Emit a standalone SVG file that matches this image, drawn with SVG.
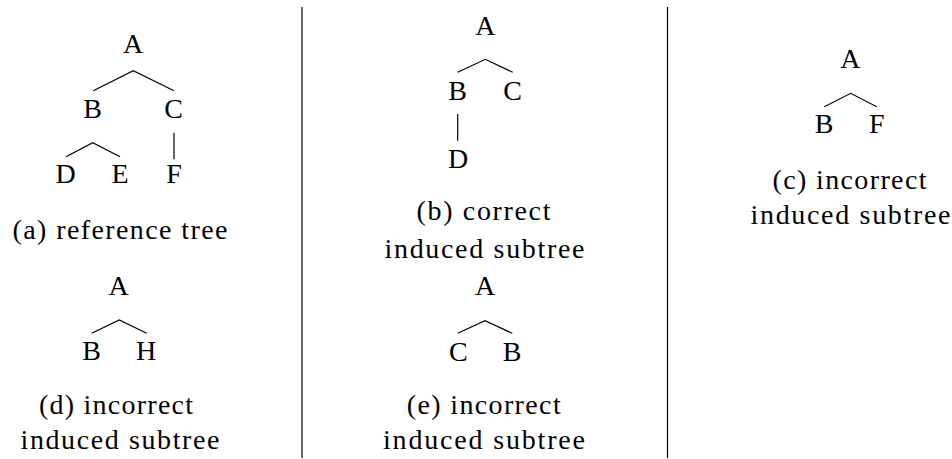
<svg xmlns="http://www.w3.org/2000/svg" width="952" height="459" viewBox="0 0 952 459">
<rect width="952" height="459" fill="#fff"/>
<g id="separators" stroke="#000" stroke-width="1.2">
  <line x1="302" y1="7" x2="302" y2="458"/>
  <line x1="667.5" y1="7" x2="667.5" y2="458"/>
</g>
<g id="connectors" fill="none" stroke="#000" stroke-width="1.2">
  <polyline points="93.3,90.7 133.3,70.7 174,90.7"/>
  <polyline points="66,156.7 92.7,142.7 120,156.7"/>
  <line x1="174" y1="132.7" x2="174" y2="159.3"/>
  <polyline points="457.7,72.3 485.3,59.3 512.7,72.3"/>
  <line x1="457.7" y1="114" x2="457.7" y2="140.7"/>
  <polyline points="824.3,106.7 850.7,93.3 876.7,106.7"/>
  <polyline points="91.7,333.3 119.3,320 146.7,333.3"/>
  <polyline points="457.7,333.3 485,320.7 512.3,333.3"/>
</g>
<g id="treeA">
  <g id="nodeA1"><text x="133" y="53.3" font-family="Liberation Serif" font-size="28" text-anchor="middle" style="font-family:'Liberation Serif',serif">A</text></g>
  <g id="nodeB1"><text x="92.5" y="118.3" font-family="Liberation Serif" font-size="28" text-anchor="middle" style="font-family:'Liberation Serif',serif">B</text></g>
  <g id="nodeC1"><text x="173.5" y="118.3" font-family="Liberation Serif" font-size="28" text-anchor="middle" style="font-family:'Liberation Serif',serif">C</text></g>
  <g id="nodeD1"><text x="65.5" y="183.3" font-family="Liberation Serif" font-size="28" text-anchor="middle" style="font-family:'Liberation Serif',serif">D</text></g>
  <g id="nodeE1"><text x="120" y="183.3" font-family="Liberation Serif" font-size="28" text-anchor="middle" style="font-family:'Liberation Serif',serif">E</text></g>
  <g id="nodeF1"><text x="174" y="183.3" font-family="Liberation Serif" font-size="28" text-anchor="middle" style="font-family:'Liberation Serif',serif">F</text></g>
  <text x="120" y="239" font-family="Liberation Serif" font-size="28" text-anchor="middle" textLength="215" lengthAdjust="spacing" style="font-family:'Liberation Serif',serif">(a) reference tree</text>
</g>
<g id="treeB">
  <g id="nodeA2"><text x="485.3" y="35" font-family="Liberation Serif" font-size="28" text-anchor="middle" style="font-family:'Liberation Serif',serif">A</text></g>
  <g id="nodeB2"><text x="457.5" y="100" font-family="Liberation Serif" font-size="28" text-anchor="middle" style="font-family:'Liberation Serif',serif">B</text></g>
  <g id="nodeC2"><text x="512.5" y="100" font-family="Liberation Serif" font-size="28" text-anchor="middle" style="font-family:'Liberation Serif',serif">C</text></g>
  <g id="nodeD2"><text x="458" y="168" font-family="Liberation Serif" font-size="28" text-anchor="middle" style="font-family:'Liberation Serif',serif">D</text></g>
  <text x="483.5" y="220" font-family="Liberation Serif" font-size="28" text-anchor="middle" textLength="134" lengthAdjust="spacing" style="font-family:'Liberation Serif',serif">(b) correct</text>
  <text x="484.5" y="257.5" font-family="Liberation Serif" font-size="28" text-anchor="middle" textLength="200" lengthAdjust="spacing" style="font-family:'Liberation Serif',serif">induced subtree</text>
</g>
<g id="treeC">
  <g id="nodeA3"><text x="850.3" y="68.3" font-family="Liberation Serif" font-size="28" text-anchor="middle" style="font-family:'Liberation Serif',serif">A</text></g>
  <g id="nodeB3"><text x="824" y="133.3" font-family="Liberation Serif" font-size="28" text-anchor="middle" style="font-family:'Liberation Serif',serif">B</text></g>
  <g id="nodeF3"><text x="876.7" y="133.3" font-family="Liberation Serif" font-size="28" text-anchor="middle" style="font-family:'Liberation Serif',serif">F</text></g>
  <text x="849.5" y="189" font-family="Liberation Serif" font-size="28" text-anchor="middle" textLength="154" lengthAdjust="spacing" style="font-family:'Liberation Serif',serif">(c) incorrect</text>
  <text x="850.5" y="224" font-family="Liberation Serif" font-size="28" text-anchor="middle" textLength="200" lengthAdjust="spacing" style="font-family:'Liberation Serif',serif">induced subtree</text>
</g>
<g id="treeD">
  <g id="nodeA4"><text x="118.5" y="295" font-family="Liberation Serif" font-size="28" text-anchor="middle" style="font-family:'Liberation Serif',serif">A</text></g>
  <g id="nodeB4"><text x="91.7" y="360" font-family="Liberation Serif" font-size="28" text-anchor="middle" style="font-family:'Liberation Serif',serif">B</text></g>
  <g id="nodeH4"><text x="146" y="360" font-family="Liberation Serif" font-size="28" text-anchor="middle" style="font-family:'Liberation Serif',serif">H</text></g>
  <text x="116" y="414" font-family="Liberation Serif" font-size="28" text-anchor="middle" textLength="154" lengthAdjust="spacing" style="font-family:'Liberation Serif',serif">(d) incorrect</text>
  <text x="120" y="449" font-family="Liberation Serif" font-size="28" text-anchor="middle" textLength="199" lengthAdjust="spacing" style="font-family:'Liberation Serif',serif">induced subtree</text>
</g>
<g id="treeE">
  <g id="nodeA5"><text x="485" y="295" font-family="Liberation Serif" font-size="28" text-anchor="middle" style="font-family:'Liberation Serif',serif">A</text></g>
  <g id="nodeC5"><text x="458.3" y="360.7" font-family="Liberation Serif" font-size="28" text-anchor="middle" style="font-family:'Liberation Serif',serif">C</text></g>
  <g id="nodeB5"><text x="512" y="360.7" font-family="Liberation Serif" font-size="28" text-anchor="middle" style="font-family:'Liberation Serif',serif">B</text></g>
  <text x="483.7" y="414" font-family="Liberation Serif" font-size="28" text-anchor="middle" textLength="154" lengthAdjust="spacing" style="font-family:'Liberation Serif',serif">(e) incorrect</text>
  <text x="484" y="449" font-family="Liberation Serif" font-size="28" text-anchor="middle" textLength="202" lengthAdjust="spacing" style="font-family:'Liberation Serif',serif">induced subtree</text>
</g>
</svg>
